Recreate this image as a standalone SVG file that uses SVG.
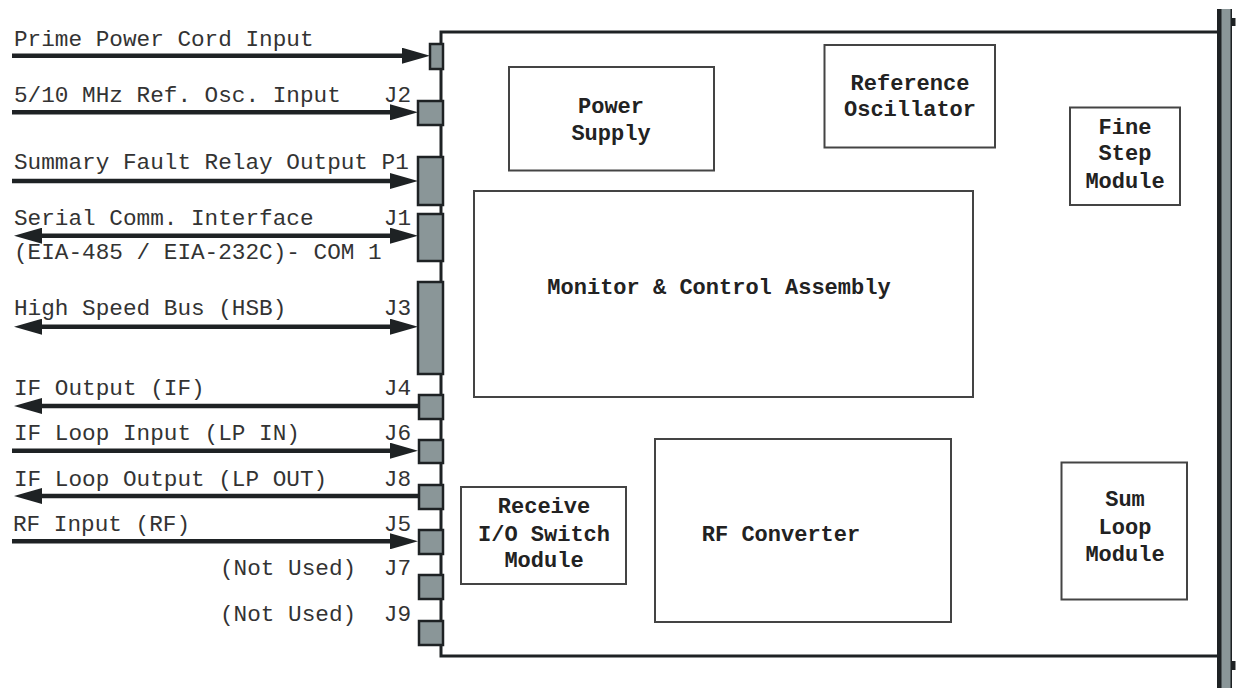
<svg xmlns="http://www.w3.org/2000/svg" width="1236" height="688" viewBox="0 0 1236 688">
<defs>
<style>
.lbl{font-family:"Liberation Mono","Courier New",monospace;font-size:22.7px;fill:#333;}
.jl{font-family:"Liberation Mono","Courier New",monospace;font-size:22.7px;fill:#333;text-anchor:end;}
.bx{fill:#fff;stroke:#444;stroke-width:2;}
.bt{font-family:"Liberation Mono","Courier New",monospace;font-size:22px;font-weight:bold;fill:#222;text-anchor:middle;}
.conn{fill:#8a9698;stroke:#1e2224;stroke-width:2.5;}
.ar{stroke:#1e2224;stroke-width:4.5;fill:none;}
</style>
<marker id="ah" viewBox="0 0 28 16" markerWidth="28" markerHeight="16" refX="14" refY="8" markerUnits="userSpaceOnUse" orient="auto-start-reverse">
<path d="M0,0 L28,8 L0,16 Z" fill="#1e2224"/>
</marker>
</defs>
<rect width="1236" height="688" fill="#fff"/>

<g id="chassis">
<path d="M1217,32 H441 V656 H1217" fill="none" stroke="#1e2224" stroke-width="3"/>
</g>

<g id="front-panel">
<rect x="1219" y="9" width="12" height="681" fill="#8a9698" stroke="none"/>
<rect x="1217" y="9" width="4.5" height="681" fill="#1e2224"/>
<rect x="1230.5" y="9" width="1.5" height="681" fill="#1e2224"/>
<rect x="1231" y="18" width="4.5" height="8" fill="#1e2224"/>
<rect x="1231" y="661" width="4.5" height="9" fill="#1e2224"/>
</g>

<g id="connectors">
<line class="ar" x1="12" y1="55.7" x2="416" y2="55.7" marker-end="url(#ah)"/>
<line class="ar" x1="12" y1="112.3" x2="404" y2="112.3" marker-end="url(#ah)"/>
<line class="ar" x1="12" y1="181" x2="404" y2="181" marker-end="url(#ah)"/>
<line class="ar" x1="28" y1="235.7" x2="404" y2="235.7" marker-start="url(#ah)" marker-end="url(#ah)"/>
<line class="ar" x1="28" y1="326.7" x2="404" y2="326.7" marker-start="url(#ah)" marker-end="url(#ah)"/>
<line class="ar" x1="28" y1="406" x2="422" y2="406" marker-start="url(#ah)"/>
<line class="ar" x1="12" y1="450.7" x2="404" y2="450.7" marker-end="url(#ah)"/>
<line class="ar" x1="28" y1="496" x2="422" y2="496" marker-start="url(#ah)"/>
<line class="ar" x1="12" y1="541.3" x2="404" y2="541.3" marker-end="url(#ah)"/>
</g>

<g id="port-prime"><rect class="conn" x="430" y="44" width="13" height="25"/><text class="lbl" x="14" y="46">Prime Power Cord Input</text></g>
<g id="port-J2"><rect class="conn" x="418" y="101" width="25" height="24"/><text class="lbl" x="14" y="101.7">5/10 MHz Ref. Osc. Input</text><text class="jl" x="411" y="101.7">J2</text></g>
<g id="port-P1"><rect class="conn" x="418" y="157" width="25" height="48"/><text class="lbl" x="14" y="169.3">Summary Fault Relay Output P1</text></g>
<g id="port-J1"><rect class="conn" x="418" y="214" width="25" height="47"/><text class="lbl" x="14" y="225">Serial Comm. Interface</text><text class="jl" x="411" y="225">J1</text><text class="lbl" x="14" y="259.3">(EIA-485 / EIA-232C)- COM 1</text></g>
<g id="port-J3"><rect class="conn" x="418" y="282" width="25" height="92"/><text class="lbl" x="14" y="315">High Speed Bus (HSB)</text><text class="jl" x="411" y="315">J3</text></g>
<g id="port-J4"><rect class="conn" x="419" y="395" width="24" height="24"/><text class="lbl" x="14" y="395">IF Output (IF)</text><text class="jl" x="411" y="395">J4</text></g>
<g id="port-J6"><rect class="conn" x="419" y="440" width="24" height="23"/><text class="lbl" x="14" y="440">IF Loop Input (LP IN)</text><text class="jl" x="411" y="440">J6</text></g>
<g id="port-J8"><rect class="conn" x="419" y="485" width="24" height="24"/><text class="lbl" x="14" y="485.7">IF Loop Output (LP OUT)</text><text class="jl" x="411" y="485.7">J8</text></g>
<g id="port-J5"><rect class="conn" x="419" y="530" width="24" height="24"/><text class="lbl" x="13" y="530.7">RF Input (RF)</text><text class="jl" x="411" y="530.7">J5</text></g>
<g id="port-J7"><rect class="conn" x="419" y="575" width="24" height="24"/><text class="lbl" x="220" y="575">(Not Used)</text><text class="jl" x="411" y="575">J7</text></g>
<g id="port-J9"><rect class="conn" x="419" y="621" width="24" height="24"/><text class="lbl" x="220" y="620.7">(Not Used)</text><text class="jl" x="411" y="620.7">J9</text></g>

<g id="power-supply"><rect class="bx" x="509" y="67" width="205" height="103.5"/><text class="bt" x="611" y="113">Power</text><text class="bt" x="611" y="140">Supply</text></g>
<g id="reference-oscillator"><rect class="bx" x="824.5" y="45" width="170.5" height="102.5"/><text class="bt" x="910" y="90">Reference</text><text class="bt" x="910" y="116">Oscillator</text></g>
<g id="fine-step-module"><rect class="bx" x="1070" y="107.5" width="110" height="97.5"/><text class="bt" x="1125" y="134">Fine</text><text class="bt" x="1125" y="160">Step</text><text class="bt" x="1125" y="187.5">Module</text></g>
<g id="monitor-control"><rect class="bx" x="474" y="191" width="499" height="206"/><text class="bt" x="719" y="294">Monitor &amp; Control Assembly</text></g>
<g id="receive-io-switch"><rect class="bx" x="461" y="487" width="165" height="97"/><text class="bt" x="544" y="513">Receive</text><text class="bt" x="544" y="540.7">I/O Switch</text><text class="bt" x="544" y="566.7">Module</text></g>
<g id="rf-converter"><rect class="bx" x="655" y="439" width="296" height="183"/><text class="bt" x="781" y="540.7">RF Converter</text></g>
<g id="sum-loop-module"><rect class="bx" x="1061.5" y="462.5" width="125.5" height="137"/><text class="bt" x="1125" y="506">Sum</text><text class="bt" x="1125" y="534">Loop</text><text class="bt" x="1125" y="560.7">Module</text></g>
</svg>
